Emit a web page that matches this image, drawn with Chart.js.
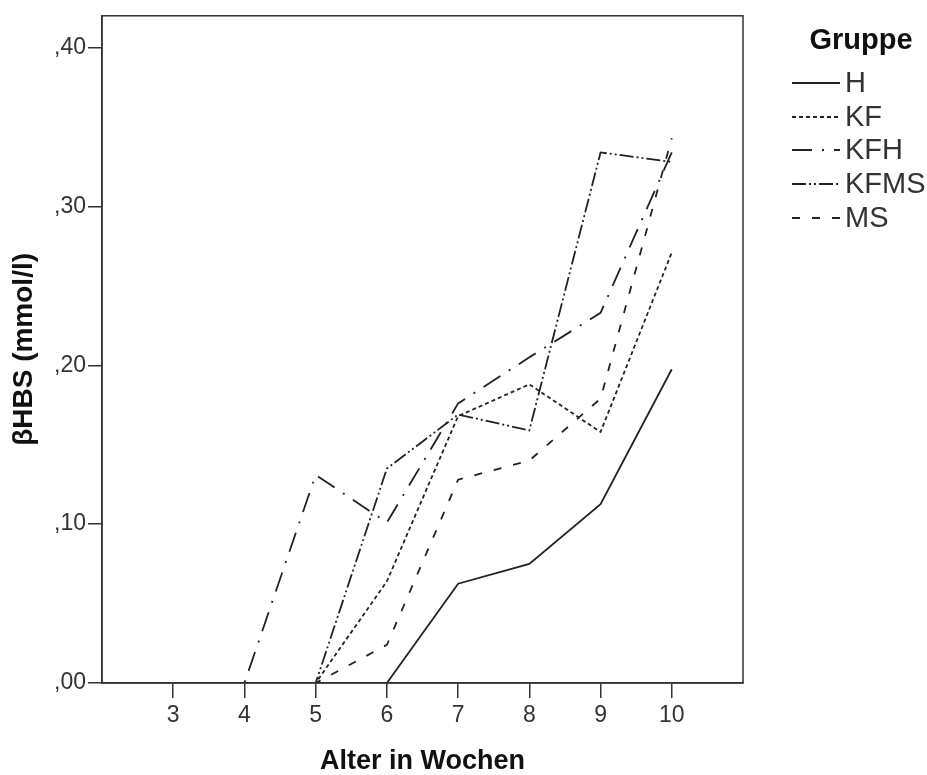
<!DOCTYPE html>
<html>
<head>
<meta charset="utf-8">
<script src="https://cdn.jsdelivr.net/npm/chart.js@4"></script>
<style>
  html, body { margin: 0; padding: 0; background: #fff; }
  canvas { display: block; }
</style>
</head>
<body>
<canvas id="c" width="927" height="775"></canvas>
<script>
// ---- data ----
const weeks = [3, 4, 5, 6, 7, 8, 9, 10];
const groupNames = ["H", "KF", "KFH", "KFMS", "MS"];
const H    = [0, 0, 0,     0,     0.0625, 0.075, 0.1125, 0.1975];
const KF   = [0, 0, 0,     0.064, 0.168,  0.188, 0.158,  0.271];
const KFH  = [0, 0, 0.131, 0.101, 0.176,  0.205, 0.233,  0.334];
const KFMS = [0, 0, 0,     0.135, 0.169,  0.159, 0.334,  0.328];
const MS   = [0, 0, 0,     0.024, 0.128,  0.14,  0.179,  0.343];
const yTicks = [0, 0.1, 0.2, 0.3, 0.4];
const xTicks = weeks;

const seriesValues = [H, KF, KFH, KFMS, MS];
const dashes = [[], [4, 3], [20, 10, 2, 10], [14, 3, 2, 3, 2, 3], [8, 12]];
const lineColor = '#222';

function toPoints(vals) {
  return vals.map((v, i) => ({ x: weeks[i], y: v }));
}

const datasets = groupNames.map((name, i) => ({
  label: name,
  data: toPoints(seriesValues[i]),
  borderColor: lineColor,
  backgroundColor: lineColor,
  borderWidth: 1.8,
  borderDash: dashes[i],
  pointRadius: 0,
  tension: 0,
  fill: false
}));

const FONT = "'Liberation Sans', Arial, sans-serif";

const framePlugin = {
  id: 'frame',
  afterDatasetsDraw(chart) {
    const { ctx, chartArea: a } = chart;
    ctx.save();
    ctx.strokeStyle = '#333';
    ctx.lineWidth = 1.5;
    ctx.setLineDash([]);
    ctx.strokeRect(a.left, a.top, a.right - a.left, a.bottom - a.top);
    ctx.restore();
  }
};

const legendPlugin = {
  id: 'customLegend',
  afterDraw(chart) {
    const { ctx } = chart;
    ctx.save();
    ctx.fillStyle = '#111';
    ctx.font = "bold 29px " + FONT;
    ctx.textAlign = 'center';
    ctx.textBaseline = 'middle';
    ctx.fillText('Gruppe', 861, 41);
    const ys = [83, 117, 150, 184, 218];
    chart.data.datasets.forEach((ds, i) => {
      const y = ys[i];
      ctx.strokeStyle = ds.borderColor;
      ctx.lineWidth = ds.borderWidth;
      ctx.setLineDash(ds.borderDash);
      ctx.beginPath();
      ctx.moveTo(792, y);
      ctx.lineTo(840, y);
      ctx.stroke();
      ctx.setLineDash([]);
      ctx.fillStyle = '#333';
      ctx.font = "29px " + FONT;
      ctx.textAlign = 'left';
      ctx.fillText(ds.label, 845, y + 1);
    });
    ctx.restore();
  }
};

new Chart(document.getElementById('c'), {
  type: 'line',
  data: { datasets },
  options: {
    responsive: false,
    animation: false,
    devicePixelRatio: 1,
    layout: { padding: { top: 12, right: 184, left: 0, bottom: 0 } },
    plugins: { legend: { display: false }, tooltip: { enabled: false } },
    scales: {
      x: {
        type: 'linear',
        min: 2,
        max: 11,
        afterBuildTicks(scale) { scale.ticks = xTicks.map(v => ({ value: v })); },
        afterFit(scale) { scale.height = 92; },
        grid: { drawOnChartArea: false, tickLength: 15, color: '#333', lineWidth: 1.5 },
        border: { color: '#333', width: 1.5 },
        ticks: {
          font: { family: FONT, size: 23 },
          color: '#333',
          padding: 4,
          maxRotation: 0,
          callback: v => String(v)
        },
        title: {
          display: true,
          text: 'Alter in Wochen',
          font: { family: FONT, size: 27, weight: 'bold', lineHeight: 1 },
          color: '#111',
          padding: { top: 0, bottom: 0 }
        }
      },
      y: {
        type: 'linear',
        min: 0,
        max: 0.42,
        afterBuildTicks(scale) { scale.ticks = yTicks.map(v => ({ value: v })); },
        afterFit(scale) { scale.width = 102; },
        grid: { drawOnChartArea: false, tickLength: 14, color: '#333', lineWidth: 1.5 },
        border: { color: '#333', width: 1.5 },
        ticks: {
          font: { family: FONT, size: 23 },
          color: '#333',
          padding: 2,
          callback: v => ',' + v.toFixed(2).split('.')[1]
        },
        title: {
          display: true,
          text: 'βHBS (mmol/l)',
          font: { family: FONT, size: 28, weight: 'bold', lineHeight: 1 },
          color: '#111',
          padding: { top: 10, bottom: 0 }
        }
      }
    }
  },
  plugins: [framePlugin, legendPlugin]
});
</script>
</body>
</html>
